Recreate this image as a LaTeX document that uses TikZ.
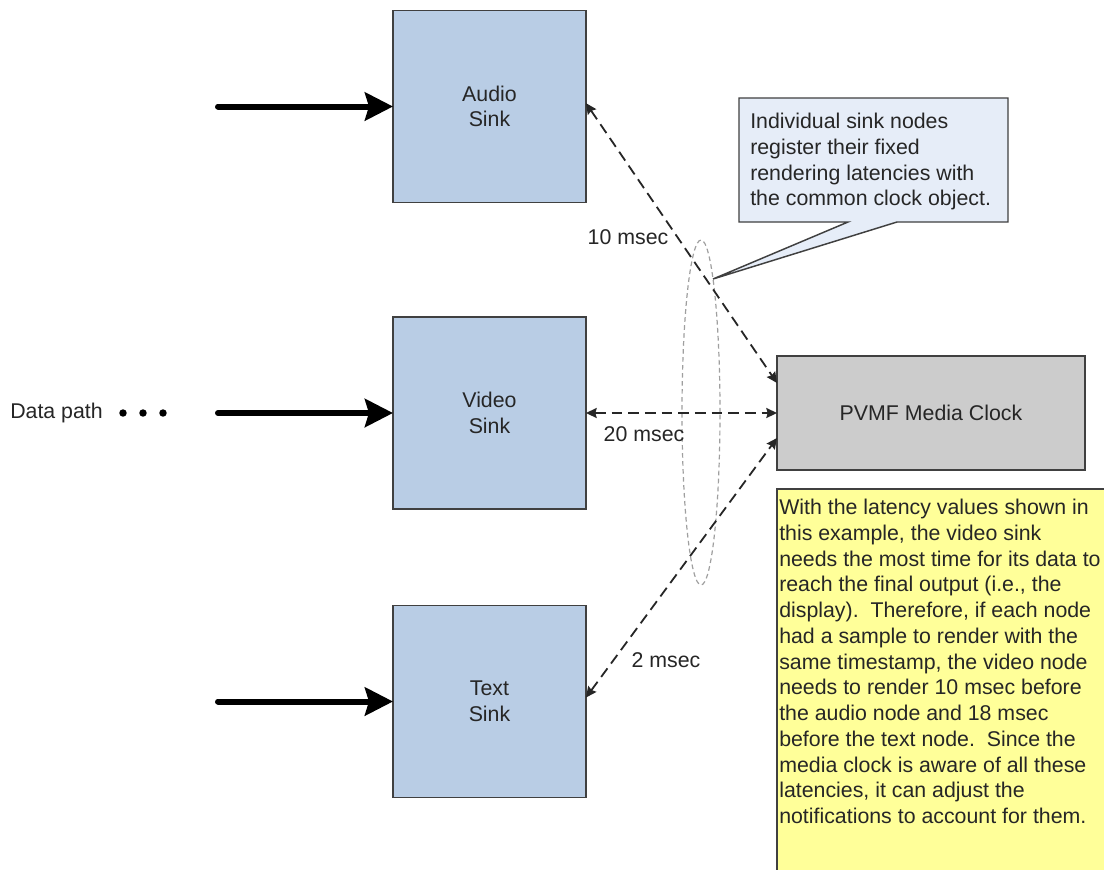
\documentclass[tikz,border=0pt]{standalone}
\usepackage{fontspec}
\setmainfont{Liberation Sans}
\usetikzlibrary{arrows.meta}
\definecolor{sinkfill}{HTML}{B9CDE5}
\definecolor{clockfill}{HTML}{CCCCCC}
\definecolor{notefill}{HTML}{FFFF99}
\definecolor{callfill}{HTML}{E6EDF8}
\definecolor{edgecol}{HTML}{404040}
\definecolor{txt}{HTML}{262626}
\begin{document}
\begin{tikzpicture}[x=0.75pt,y=-0.75pt,
  font=\fontsize{16}{19.3}\selectfont, text=txt,
  sink/.style={draw=edgecol, line width=1.1pt, fill=sinkfill, minimum width=144.75pt,
    minimum height=144pt, align=center, inner sep=0pt, outer sep=0pt},
  clockbox/.style={draw=edgecol, line width=1.1pt, fill=clockfill, minimum width=231pt,
    minimum height=85.5pt, inner sep=0pt, outer sep=0pt},
  feed/.style={line width=4.5pt, line cap=round, -{Stealth[length=21pt,width=21pt,inset=3pt]}},
  latency/.style={black!85, line width=1.35pt, dash pattern=on 8pt off 4.5pt,
    {Stealth[length=8pt,width=7.5pt,inset=1pt]}-{Stealth[length=8pt,width=7.5pt,inset=1pt]}},
  lbl/.style={inner sep=0pt},
  grouping/.style={gray!75, line width=0.9pt, dash pattern=on 3.5pt off 2.5pt}
]
\clip (0,0) rectangle (1104,869);
\fill[white] (0,0) rectangle (1104,869);

% sinks
\node[sink] (audio) at (489.5,106.5) {Audio\\Sink};
\node[sink] (video) at (489.5,413) {Video\\Sink};
\node[sink] (textsink) at (489.5,701.5) {Text\\Sink};

% clock
\node[clockbox] (clock) at (931,413) {PVMF Media Clock};

% data path
\node[lbl, anchor=west] (datapath) at (10,413) {Data path};
\fill (123,413) circle[radius=2.8pt];
\fill (143,413) circle[radius=2.8pt];
\fill (163,413) circle[radius=2.8pt];

% input arrows
\coordinate (ain) at (218,106.5);
\coordinate (vin) at (218,413);
\coordinate (tin) at (218,701.5);
\draw[feed] (ain) -- (audio.west);
\draw[feed] (vin) -- (video.west);
\draw[feed] (tin) -- (textsink.west);

% grouping ellipse
\draw[grouping] (701,412.5) ellipse [x radius=14.25pt, y radius=129.4pt];

% latency connectors
\draw[latency] ([yshift=2.5pt]audio.east) -- ([yshift=22.5pt]clock.west);
\draw[latency] (video.east) -- (clock.west);
\draw[latency] ([yshift=3pt]textsink.east) -- ([yshift=-18.75pt]clock.west);

\node[lbl] (l10) at (628,237) {10 msec};
\node[lbl] (l20) at (644,434) {20 msec};
\node[lbl] (l2) at (666,660) {2 msec};

% callout
\draw[draw=edgecol, line width=1.1pt, fill=callfill]
  (739,98) -- (1008,98) -- (1008,222) -- (897,222) -- (713,279) -- (848,222) -- (739,222) -- cycle;
\node[lbl, anchor=north west, align=left] (calltext) at (750,113)
  {Individual sink nodes\\register their fixed\\rendering latencies with\\the common clock object.};

% note
\draw[draw=edgecol, line width=1.1pt, fill=notefill] (777,489) rectangle (1130,900);
\node[lbl, anchor=north west, align=left] (notetext) at (779,499)
  {With the latency values shown in\\
   this example, the video sink\\
   needs the most time for its data to\\
   reach the final output (i.e., the\\
   display).~~Therefore, if each node\\
   had a sample to render with the\\
   same timestamp, the video node\\
   needs to render 10 msec before\\
   the audio node and 18 msec\\
   before the text node.~~Since the\\
   media clock is aware of all these\\
   latencies, it can adjust the\\
   notifications to account for them.};
\end{tikzpicture}
\end{document}
